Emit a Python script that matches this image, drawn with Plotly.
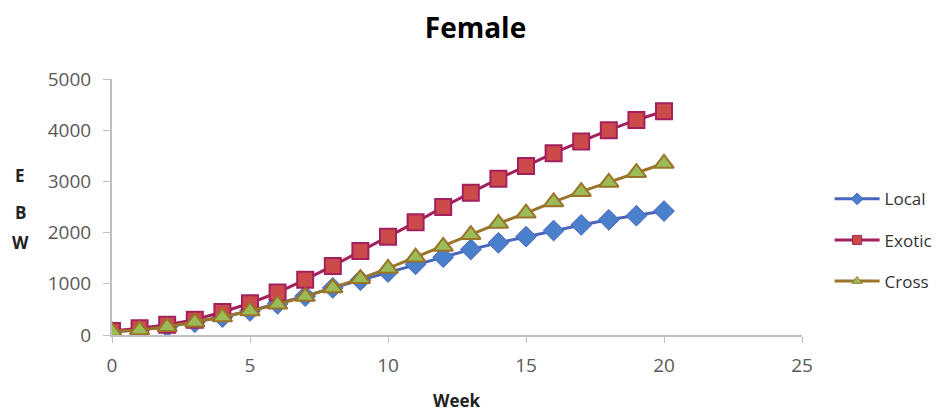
import plotly.graph_objects as go

weeks = list(range(0, 21))
local = [60, 100, 160, 250, 350, 470, 610, 760, 920, 1070, 1230, 1380, 1520, 1670, 1800, 1920, 2040, 2150, 2250, 2330, 2420]
exotic = [80, 130, 200, 300, 450, 620, 830, 1080, 1350, 1640, 1920, 2200, 2500, 2780, 3050, 3300, 3550, 3780, 4000, 4200, 4370]
cross = [70, 100, 160, 250, 350, 470, 600, 750, 920, 1100, 1300, 1520, 1730, 1960, 2180, 2380, 2600, 2800, 2980, 3170, 3350]

x_ticks = [0, 5, 10, 15, 20, 25]
y_ticks = [0, 1000, 2000, 3000, 4000, 5000]

series = [
    ("Local", local, "#4A66BC", "diamond", "#4A7FCB", 1, 16, "a"),
    ("Exotic", exotic, "#A3205F", "square", "#CC4A4A", 2, 16, "b"),
    ("Cross", cross, "#9A7428", "triangle-up", "#9BBB59", 2, 17, "c"),
]

fig = go.Figure()
for name, vals, lc, sym, fc, lw, sz, grp in series:
    fig.add_trace(go.Scatter(x=weeks, y=vals, name=name, mode="lines+markers",
                             line=dict(color=lc, width=3),
                             marker=dict(symbol=sym, size=sz, color=fc,
                                         line=dict(color=lc, width=lw)),
                             legendgroup=grp, showlegend=False))
for name, vals, lc, sym, fc, lw, sz, grp in series:
    fig.add_trace(go.Scatter(x=[None], y=[None], name=name, mode="lines+markers",
                             line=dict(color=lc, width=3),
                             marker=dict(symbol=sym, size=9, color=fc,
                                         line=dict(color=lc, width=1)),
                             legendgroup=grp, showlegend=True))

fig.update_layout(
    width=935, height=404,
    margin=dict(l=104, r=141, t=71, b=77, autoexpand=False),
    paper_bgcolor="white", plot_bgcolor="white",
    font=dict(family="Open Sans, Liberation Sans, sans-serif", color="#595959", size=19),
    title=dict(text="<b>Female</b>", x=0.5, xanchor="center", y=0.95, yanchor="middle",
               font=dict(size=28, color="black", family="Open Sans, sans-serif")),
    xaxis=dict(range=[0, 25], tickvals=x_ticks, showgrid=False, zeroline=False,
               showline=True, linecolor="#BFBFBF", linewidth=2, automargin=False,
               ticks="outside", tickcolor="#BFBFBF", ticklen=6, ticklabelstandoff=6),
    yaxis=dict(range=[0, 5000], tickvals=y_ticks, showgrid=False, zeroline=False,
               showline=True, linecolor="#BFBFBF", linewidth=2, automargin=False,
               ticks="outside", tickcolor="#BFBFBF", ticklen=7, ticklabelstandoff=8),
    legend=dict(x=1.04, y=0.37, xanchor="left", yanchor="middle",
                font=dict(size=17, color="#333333"), tracegroupgap=16,
                itemwidth=45, bgcolor="rgba(0,0,0,0)"),
    showlegend=True,
)
fig.add_annotation(text="<b>Week</b>", xref="paper", yref="paper", x=0.5, y=-0.255,
                   xanchor="center", yanchor="middle", showarrow=False,
                   font=dict(size=17, color="#222222"))
for letter, yp in [("E", 0.625), ("B", 0.48), ("W", 0.36)]:
    fig.add_annotation(text=f"<b>{letter}</b>", xref="paper", yref="paper",
                       x=-0.133, y=yp, xanchor="center", yanchor="middle", showarrow=False,
                       font=dict(size=17, color="#222222"))

fig.write_html("out.html")
